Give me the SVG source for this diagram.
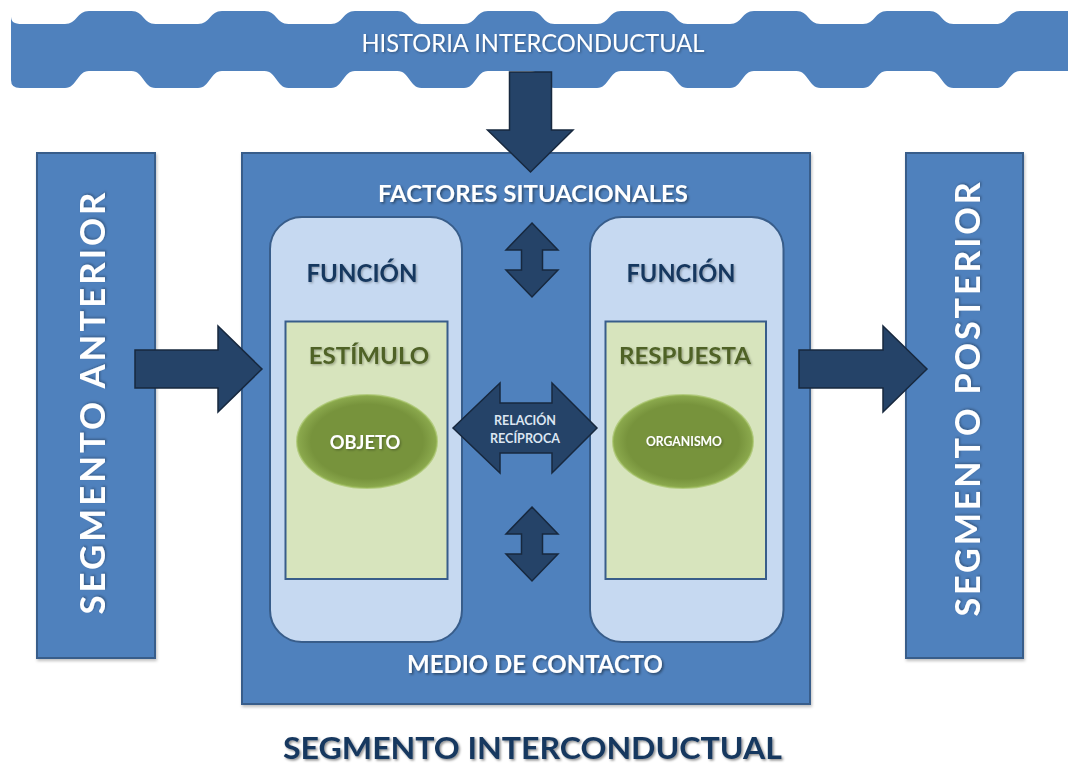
<svg xmlns="http://www.w3.org/2000/svg" width="1068" height="766" viewBox="0 0 1068 766">
<defs>
<filter id="ts" x="-10%" y="-30%" width="130%" height="170%"><feDropShadow dx="1.5" dy="1.5" stdDeviation="1" flood-color="#000" flood-opacity="0.45"/></filter>
<filter id="tsl" x="-10%" y="-30%" width="130%" height="180%"><feDropShadow dx="1.2" dy="1.2" stdDeviation="0.8" flood-color="#000" flood-opacity="0.3"/></filter>
<filter id="ss" x="-5%" y="-5%" width="112%" height="112%"><feDropShadow dx="1" dy="2" stdDeviation="1.5" flood-color="#000" flood-opacity="0.25"/></filter>
<radialGradient id="eg" cx="50%" cy="50%" r="50%">
<stop offset="0.8" stop-color="#77933C"/><stop offset="1" stop-color="#8CAA4E"/>
</radialGradient>
<style>
.blue{fill:#4F81BD;stroke:#385D8A;stroke-width:2}
.panel{fill:#C6D9F1;stroke:#385D8A;stroke-width:2}
.green{fill:#D7E4BD;stroke:#385D8A;stroke-width:2}
.ell{fill:url(#eg);stroke:#9BBB59;stroke-width:2;stroke-opacity:0.6}
.arr{fill:#254368;stroke:#17283E;stroke-width:1.5;stroke-linejoin:miter}
.t{font-family:Lato,"Open Sans","Liberation Sans",sans-serif;font-weight:bold;text-anchor:middle}
.w{fill:#FFFFFF}
.nav{fill:#17375E}
.olv{fill:#4F6228}
</style>
</defs>

<g id="historia">
<path fill="#4F81BD" d="M11,16 C11,22 14,24 22,24 L65,24 C77,24 77,11 89,11 L131.5,11 C143.5,11 143.5,24 155.5,24 L198,24 C210,24 210,11 222,11 L264.5,11 C276.5,11 276.5,24 288.5,24 L331,24 C343,24 343,11 355,11 L397.5,11 C409.5,11 409.5,24 421.5,24 L464,24 C476,24 476,11 488,11 L530.5,11 C542.5,11 542.5,24 554.5,24 L597,24 C609,24 609,11 621,11 L663.5,11 C675.5,11 675.5,24 687.5,24 L730,24 C742,24 742,11 754,11 L796.5,11 C808.5,11 808.5,24 820.5,24 L863,24 C875,24 875,11 887,11 L929.5,11 C941.5,11 941.5,24 953.5,24 L996,24 C1008,24 1008,11 1020,11 L1070,11 L1070,71 L1020,71 C1008,71 1008,88 996,88 L953.5,88 C941.5,88 941.5,71 929.5,71 L887,71 C875,71 875,88 863,88 L820.5,88 C808.5,88 808.5,71 796.5,71 L754,71 C742,71 742,88 730,88 L687.5,88 C675.5,88 675.5,71 663.5,71 L621,71 C609,71 609,88 597,88 L554.5,88 C542.5,88 542.5,71 530.5,71 L488,71 C476,71 476,88 464,88 L421.5,88 C409.5,88 409.5,71 397.5,71 L355,71 C343,71 343,88 331,88 L288.5,88 C276.5,88 276.5,71 264.5,71 L222,71 C210,71 210,88 198,88 L155.5,88 C143.5,88 143.5,71 131.5,71 L89,71 C77,71 77,88 65,88 L20,88 Q11,88 11,80 Z"/>
<text class="t w" x="533" y="52" font-size="25.5" style="font-weight:normal" textLength="343" lengthAdjust="spacingAndGlyphs" filter="url(#tsl)">HISTORIA INTERCONDUCTUAL</text>
</g>

<g id="segmento-anterior">
<rect class="blue" x="37" y="153" width="118" height="505" filter="url(#ss)"/>
<text class="t w" transform="translate(105,402) rotate(-90)" x="0" y="0" font-size="34" letter-spacing="3" textLength="425" lengthAdjust="spacingAndGlyphs" filter="url(#tsl)">SEGMENTO ANTERIOR</text>
</g>

<g id="segmento-posterior">
<rect class="blue" x="906" y="153" width="117" height="505" filter="url(#ss)"/>
<text class="t w" transform="translate(980,398) rotate(-90)" x="0" y="0" font-size="35" letter-spacing="3" textLength="437" lengthAdjust="spacingAndGlyphs" filter="url(#tsl)">SEGMENTO POSTERIOR</text>
</g>

<g id="medio-de-contacto">
<rect class="blue" x="242" y="153" width="568" height="551" filter="url(#ss)"/>
<text class="t w" x="533" y="201.5" font-size="23.5" textLength="310" lengthAdjust="spacingAndGlyphs" filter="url(#ts)">FACTORES SITUACIONALES</text>
<text class="t w" x="535" y="672.5" font-size="25" textLength="256" lengthAdjust="spacingAndGlyphs" filter="url(#ts)">MEDIO DE CONTACTO</text>
</g>

<g id="funcion-estimulo">
<rect class="panel" x="270" y="217" width="192" height="425" rx="32" ry="32"/>
<text class="t nav" x="362" y="281.5" font-size="25.5" textLength="111" lengthAdjust="spacingAndGlyphs" filter="url(#tsl)">FUNCIÓN</text>
</g>

<g id="funcion-respuesta">
<rect class="panel" x="590" y="217" width="193.5" height="425" rx="32" ry="32"/>
<text class="t nav" x="681" y="281.5" font-size="25.5" textLength="109" lengthAdjust="spacingAndGlyphs" filter="url(#tsl)">FUNCIÓN</text>
</g>

<g id="estimulo">
<rect class="green" x="285.5" y="321.5" width="162" height="257.5"/>
<text class="t olv" x="369" y="363.5" font-size="23" textLength="120.5" lengthAdjust="spacingAndGlyphs" filter="url(#tsl)">ESTÍMULO</text>
</g>

<g id="respuesta">
<rect class="green" x="605.5" y="321.5" width="160.5" height="257.5"/>
<text class="t olv" x="685" y="363.5" font-size="23" textLength="132" lengthAdjust="spacingAndGlyphs" filter="url(#tsl)">RESPUESTA</text>
</g>

<g id="objeto">
<ellipse class="ell" cx="367" cy="441.5" rx="70" ry="46.5"/>
<text class="t w" x="365" y="449" font-size="19.5" textLength="70.5" lengthAdjust="spacingAndGlyphs" filter="url(#tsl)">OBJETO</text>
</g>

<g id="organismo">
<ellipse class="ell" cx="683" cy="441.5" rx="70" ry="46.5"/>
<text class="t w" x="684" y="446" font-size="12.5" textLength="76" lengthAdjust="spacingAndGlyphs" filter="url(#tsl)">ORGANISMO</text>
</g>

<g id="titulo">
<text class="t nav" x="532.5" y="759" font-size="30" textLength="499" lengthAdjust="spacingAndGlyphs" filter="url(#ts)">SEGMENTO INTERCONDUCTUAL</text>
</g>

<g id="connectors">
<polygon class="arr" points="509.5,72 551.5,72 551.5,130 573,130 530.5,172 487.5,130 509.5,130"/>
<polygon class="arr" points="135,350 218,350 218,326 262,369 218,412 218,388 135,388"/>
<polygon class="arr" points="799,350 883,350 883,326 927,369 883,412 883,388 799,388"/>
<polygon class="arr" points="532,223 558,250 542.5,250 542.5,270 558,270 532,297 506,270 521.5,270 521.5,250 506,250"/>
<polygon class="arr" points="532,507 558,534 542.5,534 542.5,554 558,554 532,581 506,554 521.5,554 521.5,534 506,534"/>
<polygon class="arr" points="453,428 500,383 500,403 552,403 552,383 597,428 552,473 552,453 500,453 500,473"/>
<text class="t" x="525" y="425" font-size="13.5" fill="#DCE6F2" textLength="62" lengthAdjust="spacingAndGlyphs">RELACIÓN</text>
<text class="t" x="525" y="442.5" font-size="13.5" fill="#DCE6F2" textLength="70" lengthAdjust="spacingAndGlyphs">RECÍPROCA</text>
</g>
</svg>
